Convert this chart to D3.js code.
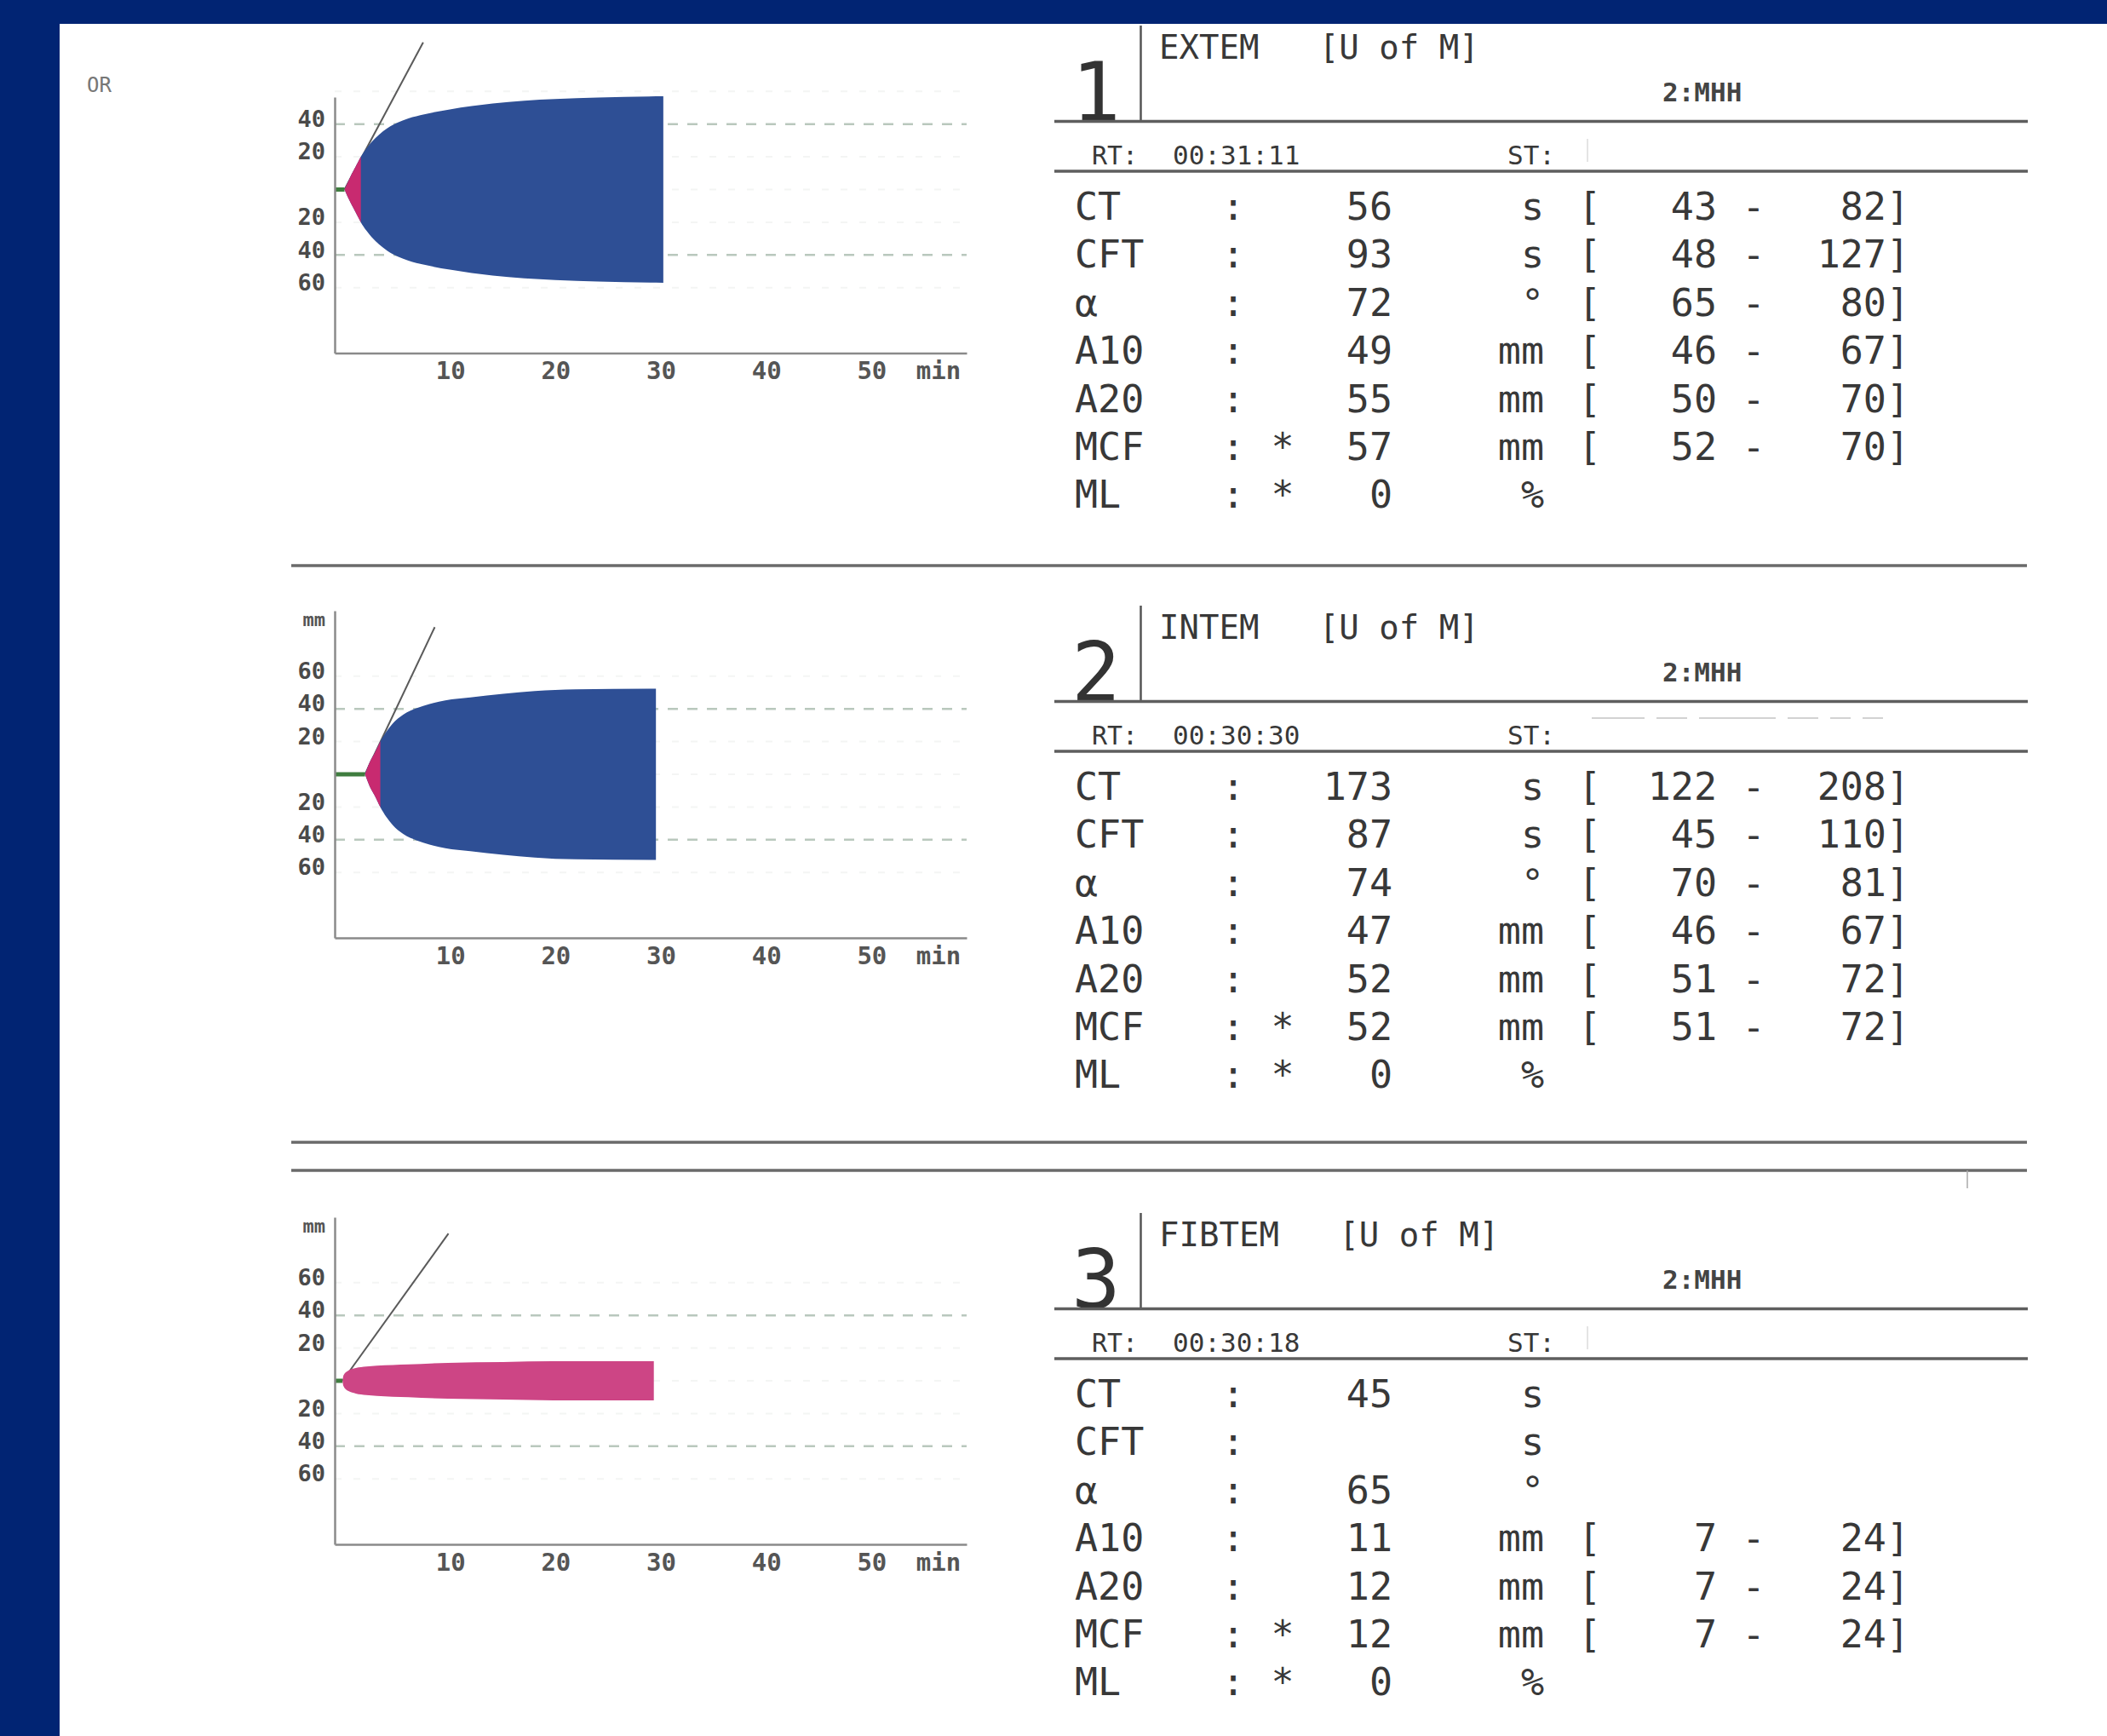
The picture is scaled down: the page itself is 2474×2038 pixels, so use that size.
<!DOCTYPE html>
<html><head><meta charset="utf-8">
<script src="https://cdn.jsdelivr.net/npm/d3@7"></script>
<style>html,body{margin:0;padding:0;background:#012473;overflow:hidden}svg{display:block}</style>
</head><body><svg id="c" width="2474" height="2038"></svg>
<script>
// ---------- data ----------
const params = ["CT","CFT","α","A10","A20","MCF","ML"];
const units  = ["s","s","°","mm","mm","mm","%"];
const flags  = ["","","","","","*","*"];
const testNames = ["EXTEM","INTEM","FIBTEM"];
const runTimes  = ["00:31:11","00:30:30","00:30:18"];
const channel   = "2:MHH";

const extemValues  = [56, 93, 72, 49, 55, 57, 0];
const extemLow     = [43, 48, 65, 46, 50, 52, null];
const extemHigh    = [82, 127, 80, 67, 70, 70, null];
const intemValues  = [173, 87, 74, 47, 52, 52, 0];
const intemLow     = [122, 45, 70, 46, 51, 51, null];
const intemHigh    = [208, 110, 81, 67, 72, 72, null];
const fibtemValues = [45, null, 65, 11, 12, 12, 0];
const fibtemLow    = [null, null, null, 7, 7, 7, null];
const fibtemHigh   = [null, null, null, 24, 24, 24, null];

// amplitude curves (time in min, amplitude in mm)
const extemTime  = [0.93, 1.5, 2.0, 2.48, 3.0, 3.5, 4.2, 5.0, 6.0, 7.0, 8.5, 10.93, 13.0, 15.0, 18.0, 20.93, 25.0, 31.2];
const extemAmp   = [0, 8, 14, 20, 25, 29, 33.5, 37.5, 41, 43.5, 46, 49, 51, 52.6, 54.3, 55.3, 56.3, 57];
const intemTime  = [2.88, 3.3, 3.8, 4.33, 4.9, 5.5, 6.5, 7.8, 9.0, 10.5, 12.88, 16.0, 19.0, 22.88, 30.5];
const intemAmp   = [0, 7, 13, 20, 26, 31, 36.5, 40.5, 43, 45.2, 47, 49.2, 50.9, 52, 52.3];
const fibtemTime = [0.75, 0.8, 0.9, 1.05, 1.3, 2.0, 3.0, 4.0, 7.0, 10.75, 16.0, 20.75, 30.3];
const fibtemAmp  = [0, 2.5, 4, 5.2, 6.3, 7.8, 8.7, 9.2, 10, 11, 11.5, 12, 12];

// where the alpha tangent line ends (min), at 90 mm
const tangentEndMin = [8.4, 9.5, 10.8];
const tangentEndAmp = 90;

const xTicks = [10, 20, 30, 40, 50];
const yTicks = [60, 40, 20, -20, -40, -60];

// ---------- layout ----------
const W = 2474, H = 2038;
const chartBase = [222.5, 909, 1621];
const chartTop  = [56.5, 100, 100];
const tableOff  = [0, 681, 1394];
const mono = "'DejaVu Sans Mono', monospace";
const ink = "#383838";

const svg = d3.select("#c");
svg.append("rect").attr("width", W).attr("height", H).attr("fill", "#012473");
svg.append("rect").attr("x", 70).attr("y", 28).attr("width", W - 70).attr("height", H - 28).attr("fill", "#ffffff");

svg.append("text").attr("x", 102).attr("y", 108).text("OR")
  .style("font-family", mono).style("font-size", "24px").attr("fill", "#777");

const tests = [
  {values: extemValues, low: extemLow, high: extemHigh, time: extemTime, amp: extemAmp, color: "#2e4f95"},
  {values: intemValues, low: intemLow, high: intemHigh, time: intemTime, amp: intemAmp, color: "#2e4f95"},
  {values: fibtemValues, low: fibtemLow, high: fibtemHigh, time: fibtemTime, amp: fibtemAmp, color: "#cd4585"}
];

const x = d3.scaleLinear().domain([0, 60]).range([393, 1135]);

tests.forEach((T, i) => {
  const base = chartBase[i];
  const y = d3.scaleLinear().domain([-100, 100]).range([base + 192, base - 192]);
  const g = svg.append("g");

  // faint guides
  [60, 20, 0, -20, -60].forEach(v => {
    g.append("line").attr("x1", x(0)).attr("x2", x(60)).attr("y1", y(v)).attr("y2", y(v))
      .attr("stroke", "#f4f5f4").attr("stroke-width", 2).attr("stroke-dasharray", "8,14");
  });
  [40, -40].forEach(v => {
    g.append("line").attr("x1", x(0)).attr("x2", x(60)).attr("y1", y(v)).attr("y2", y(v))
      .attr("stroke", "#b9c8bd").attr("stroke-width", 2.5).attr("stroke-dasharray", "12,11");
  });

  const ct = T.values[0] / 60;
  // alpha tangent
  g.append("line").attr("x1", x(ct)).attr("y1", y(0)).attr("x2", x(tangentEndMin[i])).attr("y2", y(tangentEndAmp))
    .attr("stroke", "#5a5a5a").attr("stroke-width", 2);

  // baseline before CT
  g.append("line").attr("x1", x(0)).attr("x2", x(ct)).attr("y1", y(0)).attr("y2", y(0))
    .attr("stroke", "#3f7d3f").attr("stroke-width", 5);

  const pts = T.time.map((t, k) => ({t: t, a: T.amp[k]}));
  const area = d3.area().x(d => x(d.t)).y0(d => y(-d.a)).y1(d => y(d.a)).curve(d3.curveMonotoneX);
  g.append("path").attr("d", area(pts)).attr("fill", T.color);

  if (T.values[1] != null) {
    const cid = "clip" + i;
    svg.append("clipPath").attr("id", cid).append("rect")
      .attr("x", x(0)).attr("y", y(100)).attr("width", x(ct + T.values[1] / 60) - x(0)).attr("height", y(-100) - y(100));
    g.append("path").attr("d", area(pts)).attr("fill", "#c82a70").attr("clip-path", `url(#${cid})`);
  }

  // axes
  const yAx = y.copy().domain([-100, chartTop[i]]).range([y(-100), y(chartTop[i])]);
  const ya = g.append("g").attr("transform", `translate(${x(0)},0)`)
    .call(d3.axisLeft(yAx).tickValues(yTicks.filter(v => v <= chartTop[i])).tickSize(0).tickPadding(11)
      .tickFormat(d => Math.abs(d)));
  ya.select(".domain").attr("stroke", "#8a8a8a").attr("stroke-width", 2.5);
  ya.selectAll("text").attr("dy", "0.1em").style("font-family", mono).style("font-size", "27px")
    .style("font-weight", "bold").attr("fill", "#4a4a4a");

  const xa = g.append("g").attr("transform", `translate(0,${y(-100)})`)
    .call(d3.axisBottom(x).tickValues(xTicks).tickSize(0).tickPadding(10).tickSizeOuter(0));
  xa.select(".domain").attr("stroke", "#8a8a8a").attr("stroke-width", 2.5);
  xa.selectAll("text").attr("dx", 12).style("font-family", mono).style("font-size", "29px")
    .style("font-weight", "bold").attr("fill", "#555");
  g.append("text").attr("x", 1102).attr("y", y(-100) + 10).attr("dy", "0.71em").attr("text-anchor", "middle")
    .text("min").style("font-family", mono).style("font-size", "29px").style("font-weight", "bold").attr("fill", "#555");

  if (i > 0) {
    g.append("text").attr("x", 382).attr("y", y(100) + 18).attr("text-anchor", "end").text("mm")
      .style("font-family", mono).style("font-size", "22px").style("font-weight", "bold").attr("fill", "#555");
  }

  // ---------- table ----------
  const o = tableOff[i];
  const tg = svg.append("g").style("font-family", mono).attr("fill", ink);
  tg.append("text").attr("x", 1287).attr("y", 142 + o).attr("text-anchor", "middle").text(String(i + 1))
    .style("font-size", "96px").attr("fill", "#333");
  tg.append("line").attr("x1", 1339.5).attr("x2", 1339.5).attr("y1", 30 + o).attr("y2", 143 + o)
    .attr("stroke", "#555").attr("stroke-width", 2.5);
  tg.append("text").attr("x", 1361).attr("y", 69 + o).style("white-space", "pre")
    .text(testNames[i] + "   [U of M]").style("font-size", "39px");
  tg.append("text").attr("x", 1952).attr("y", 119 + o).text(channel)
    .style("font-size", "31px").style("font-weight", "bold").attr("fill", "#444");
  [142.5, 201].forEach(yy => {
    tg.append("line").attr("x1", 1238).attr("x2", 2381).attr("y1", yy + o).attr("y2", yy + o)
      .attr("stroke", "#5e5e5e").attr("stroke-width", 3.5);
  });
  tg.append("text").attr("x", 1282).attr("y", 192.5 + o).text("RT:").style("font-size", "30px");
  tg.append("text").attr("x", 1377).attr("y", 192.5 + o).text(runTimes[i]).style("font-size", "31px");
  tg.append("text").attr("x", 1770).attr("y", 192.5 + o).text("ST:").style("font-size", "31px");
  if (i === 1) {
    tg.append("line").attr("x1", 1869).attr("x2", 2232).attr("y1", 162 + o).attr("y2", 162 + o)
      .attr("stroke", "#c4c4c4").attr("stroke-width", 1.5).attr("stroke-dasharray", "62,14,36,14,90,14,36,14,24,14,24");
  } else {
    tg.append("line").attr("x1", 1864).attr("x2", 1864).attr("y1", 163 + o).attr("y2", 190 + o)
      .attr("stroke", "#e4e4e4").attr("stroke-width", 2);
  }

  params.forEach((p, j) => {
    const by = 258 + j * 56.4 + o;
    const row = tg.append("g").style("font-size", "45px");
    row.append("text").attr("x", 1262).attr("y", by).text(p);
    row.append("text").attr("x", 1448).attr("y", by).attr("text-anchor", "middle").text(":");
    if (flags[j]) row.append("text").attr("x", 1506).attr("y", by).attr("text-anchor", "middle").text(flags[j]);
    if (T.values[j] != null) row.append("text").attr("x", 1635).attr("y", by).attr("text-anchor", "end").text(T.values[j]);
    row.append("text").attr("x", 1813).attr("y", by).attr("text-anchor", "end").text(units[j]);
    if (T.low[j] != null) {
      row.append("text").attr("x", 1853).attr("y", by).text("[");
      row.append("text").attr("x", 2016).attr("y", by).attr("text-anchor", "end").text(T.low[j]);
      row.append("text").attr("x", 2059).attr("y", by).attr("text-anchor", "middle").text("-");
      row.append("text").attr("x", 2242).attr("y", by).attr("text-anchor", "end").text(T.high[j] + "]");
    }
  });
});

// separators
[664, 1341, 1374].forEach(yy => {
  svg.append("line").attr("x1", 342).attr("x2", 2380).attr("y1", yy).attr("y2", yy)
    .attr("stroke", "#6a6a6a").attr("stroke-width", 3.5);
});
svg.append("line").attr("x1", 2310).attr("x2", 2310).attr("y1", 1374).attr("y2", 1395)
  .attr("stroke", "#aaa").attr("stroke-width", 1.5);
</script></body></html>
